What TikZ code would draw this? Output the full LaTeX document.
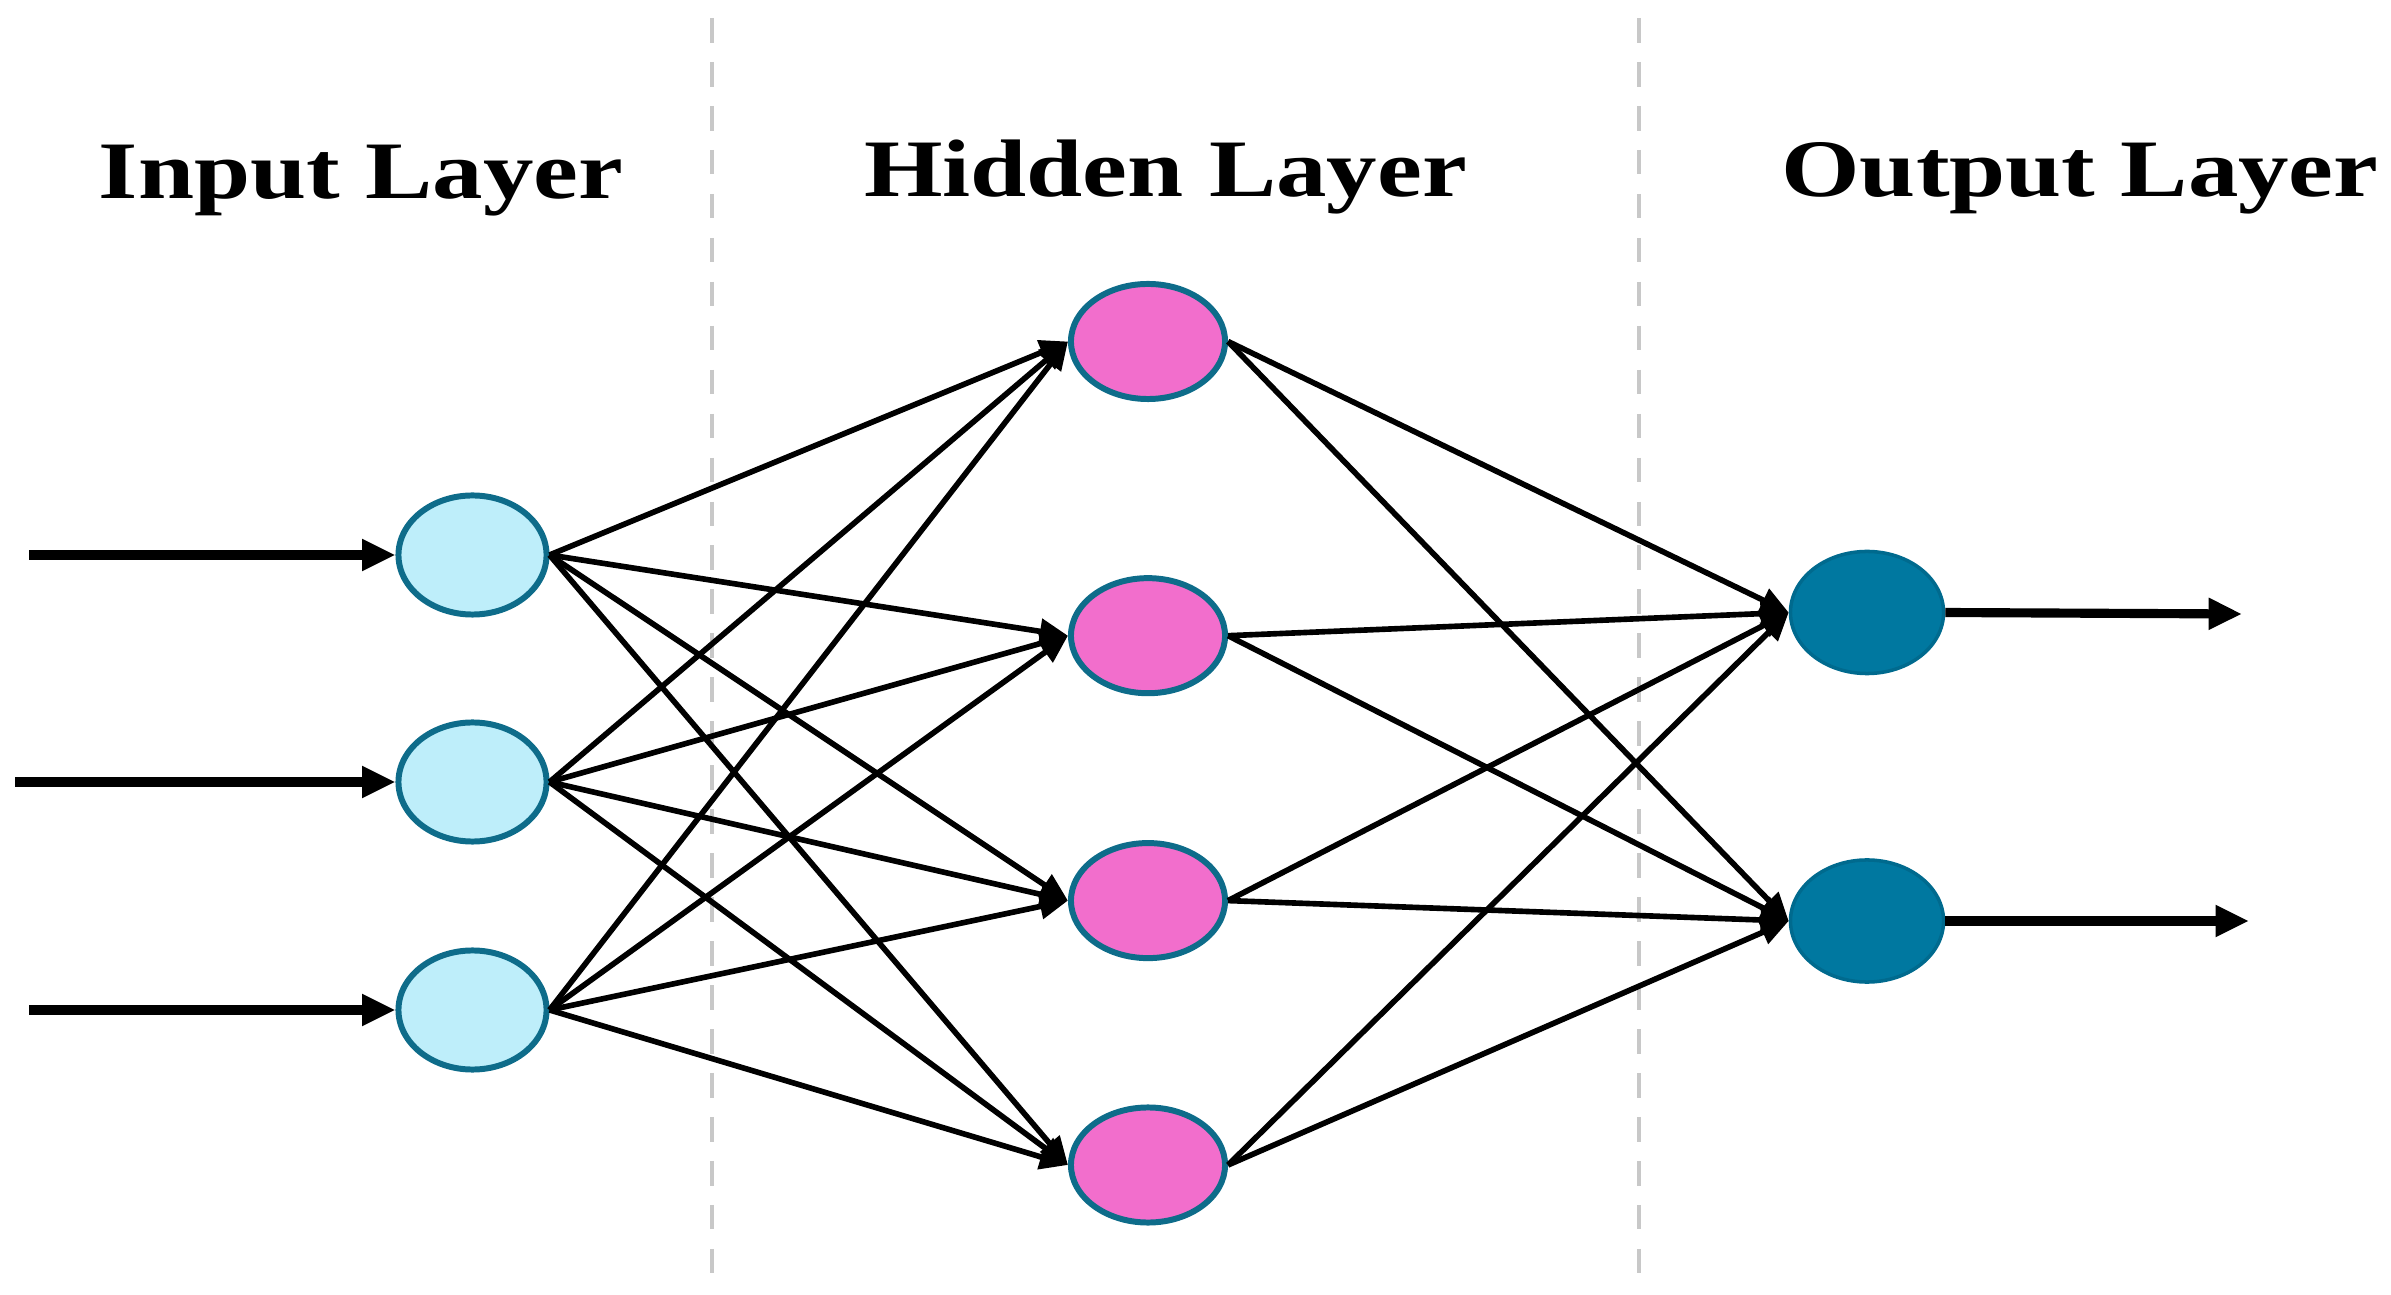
\documentclass[tikz,border=0pt]{standalone}
\usepackage{fontspec}
\usepackage{graphicx}
\setmainfont{Liberation Serif}
\usetikzlibrary{shapes.geometric,arrows.meta}
\definecolor{inFill}{HTML}{BEEEFA}
\definecolor{hidFill}{HTML}{F26ECC}
\definecolor{outFill}{HTML}{0078A0}
\definecolor{nodeBorder}{HTML}{0E6C8A}
\definecolor{outBorder}{HTML}{006A8E}
\definecolor{sepGray}{HTML}{C8C8C8}
\tikzset{
  innode/.style={ellipse, draw=nodeBorder, fill=inFill, line width=1.7pt, inner sep=0pt, minimum width=1.48cm, minimum height=1.19cm},
  hidnode/.style={ellipse, draw=nodeBorder, fill=hidFill, line width=1.7pt, inner sep=0pt, minimum width=1.54cm, minimum height=1.15cm},
  outnode/.style={ellipse, draw=outBorder, fill=outFill, line width=1pt, inner sep=0pt, minimum width=1.53cm, minimum height=1.22cm},
  conn/.style={line width=1.6pt, -{Triangle[length=8pt,width=7pt]}},
  ioarrow/.style={line width=2.6pt, -{Triangle[length=9.5pt,width=8.5pt]}},
  sepline/.style={draw=sepGray, line width=1.1pt, dash pattern=on 7pt off 5.5pt},
  title/.style={font=\bfseries\fontsize{23.2pt}{28pt}\selectfont, anchor=base, inner sep=0pt}
}
\begin{document}
\begin{tikzpicture}[x=0.01cm, y=-0.01cm]
\useasboundingbox (0,0) rectangle (2391,1295);
% separators
\coordinate (s1a) at (711.6,18);
\coordinate (s1b) at (711.6,1278);
\coordinate (s2a) at (1638.6,18);
\coordinate (s2b) at (1638.6,1278);
\draw[sepline] (s1a) -- (s1b);
\draw[sepline] (s2a) -- (s2b);
% titles
\node[title] (t1) at (361,199) {\scalebox{1.237}[1]{Input Layer}};
\node[title] (t2) at (1165.5,197) {\scalebox{1.237}[1]{Hidden Layer}};
\node[title] (t3) at (2080,197) {\scalebox{1.237}[1]{Output Layer}};
% nodes
\node[innode] (i1) at (472.5,555) {};
\node[innode] (i2) at (472.5,782) {};
\node[innode] (i3) at (472.5,1010) {};
\node[hidnode] (h1) at (1148,341.5) {};
\node[hidnode] (h2) at (1148,635.7) {};
\node[hidnode] (h3) at (1148,900.6) {};
\node[hidnode] (h4) at (1148,1165) {};
\node[outnode] (o1) at (1867,612.5) {};
\node[outnode] (o2) at (1867,921) {};
% inputs
\coordinate (a1) at (29,555);
\coordinate (a2) at (15,782);
\coordinate (a3) at (29,1010);
\draw[ioarrow] (a1) -- (i1.west);
\draw[ioarrow] (a2) -- (i2.west);
\draw[ioarrow] (a3) -- (i3.west);
% outputs
\coordinate (b1) at (2242,614);
\coordinate (b2) at (2249,921);
\draw[ioarrow] (o1.east) -- (b1);
\draw[ioarrow] (o2.east) -- (b2);
% connections
\foreach \i in {i1,i2,i3}{
  \foreach \h in {h1,h2,h3,h4}{
    \draw[conn] (\i.east) -- (\h.west);
  }
}
\foreach \h in {h1,h2,h3,h4}{
  \foreach \o in {o1,o2}{
    \draw[conn] (\h.east) -- (\o.west);
  }
}
\end{tikzpicture}
\end{document}
